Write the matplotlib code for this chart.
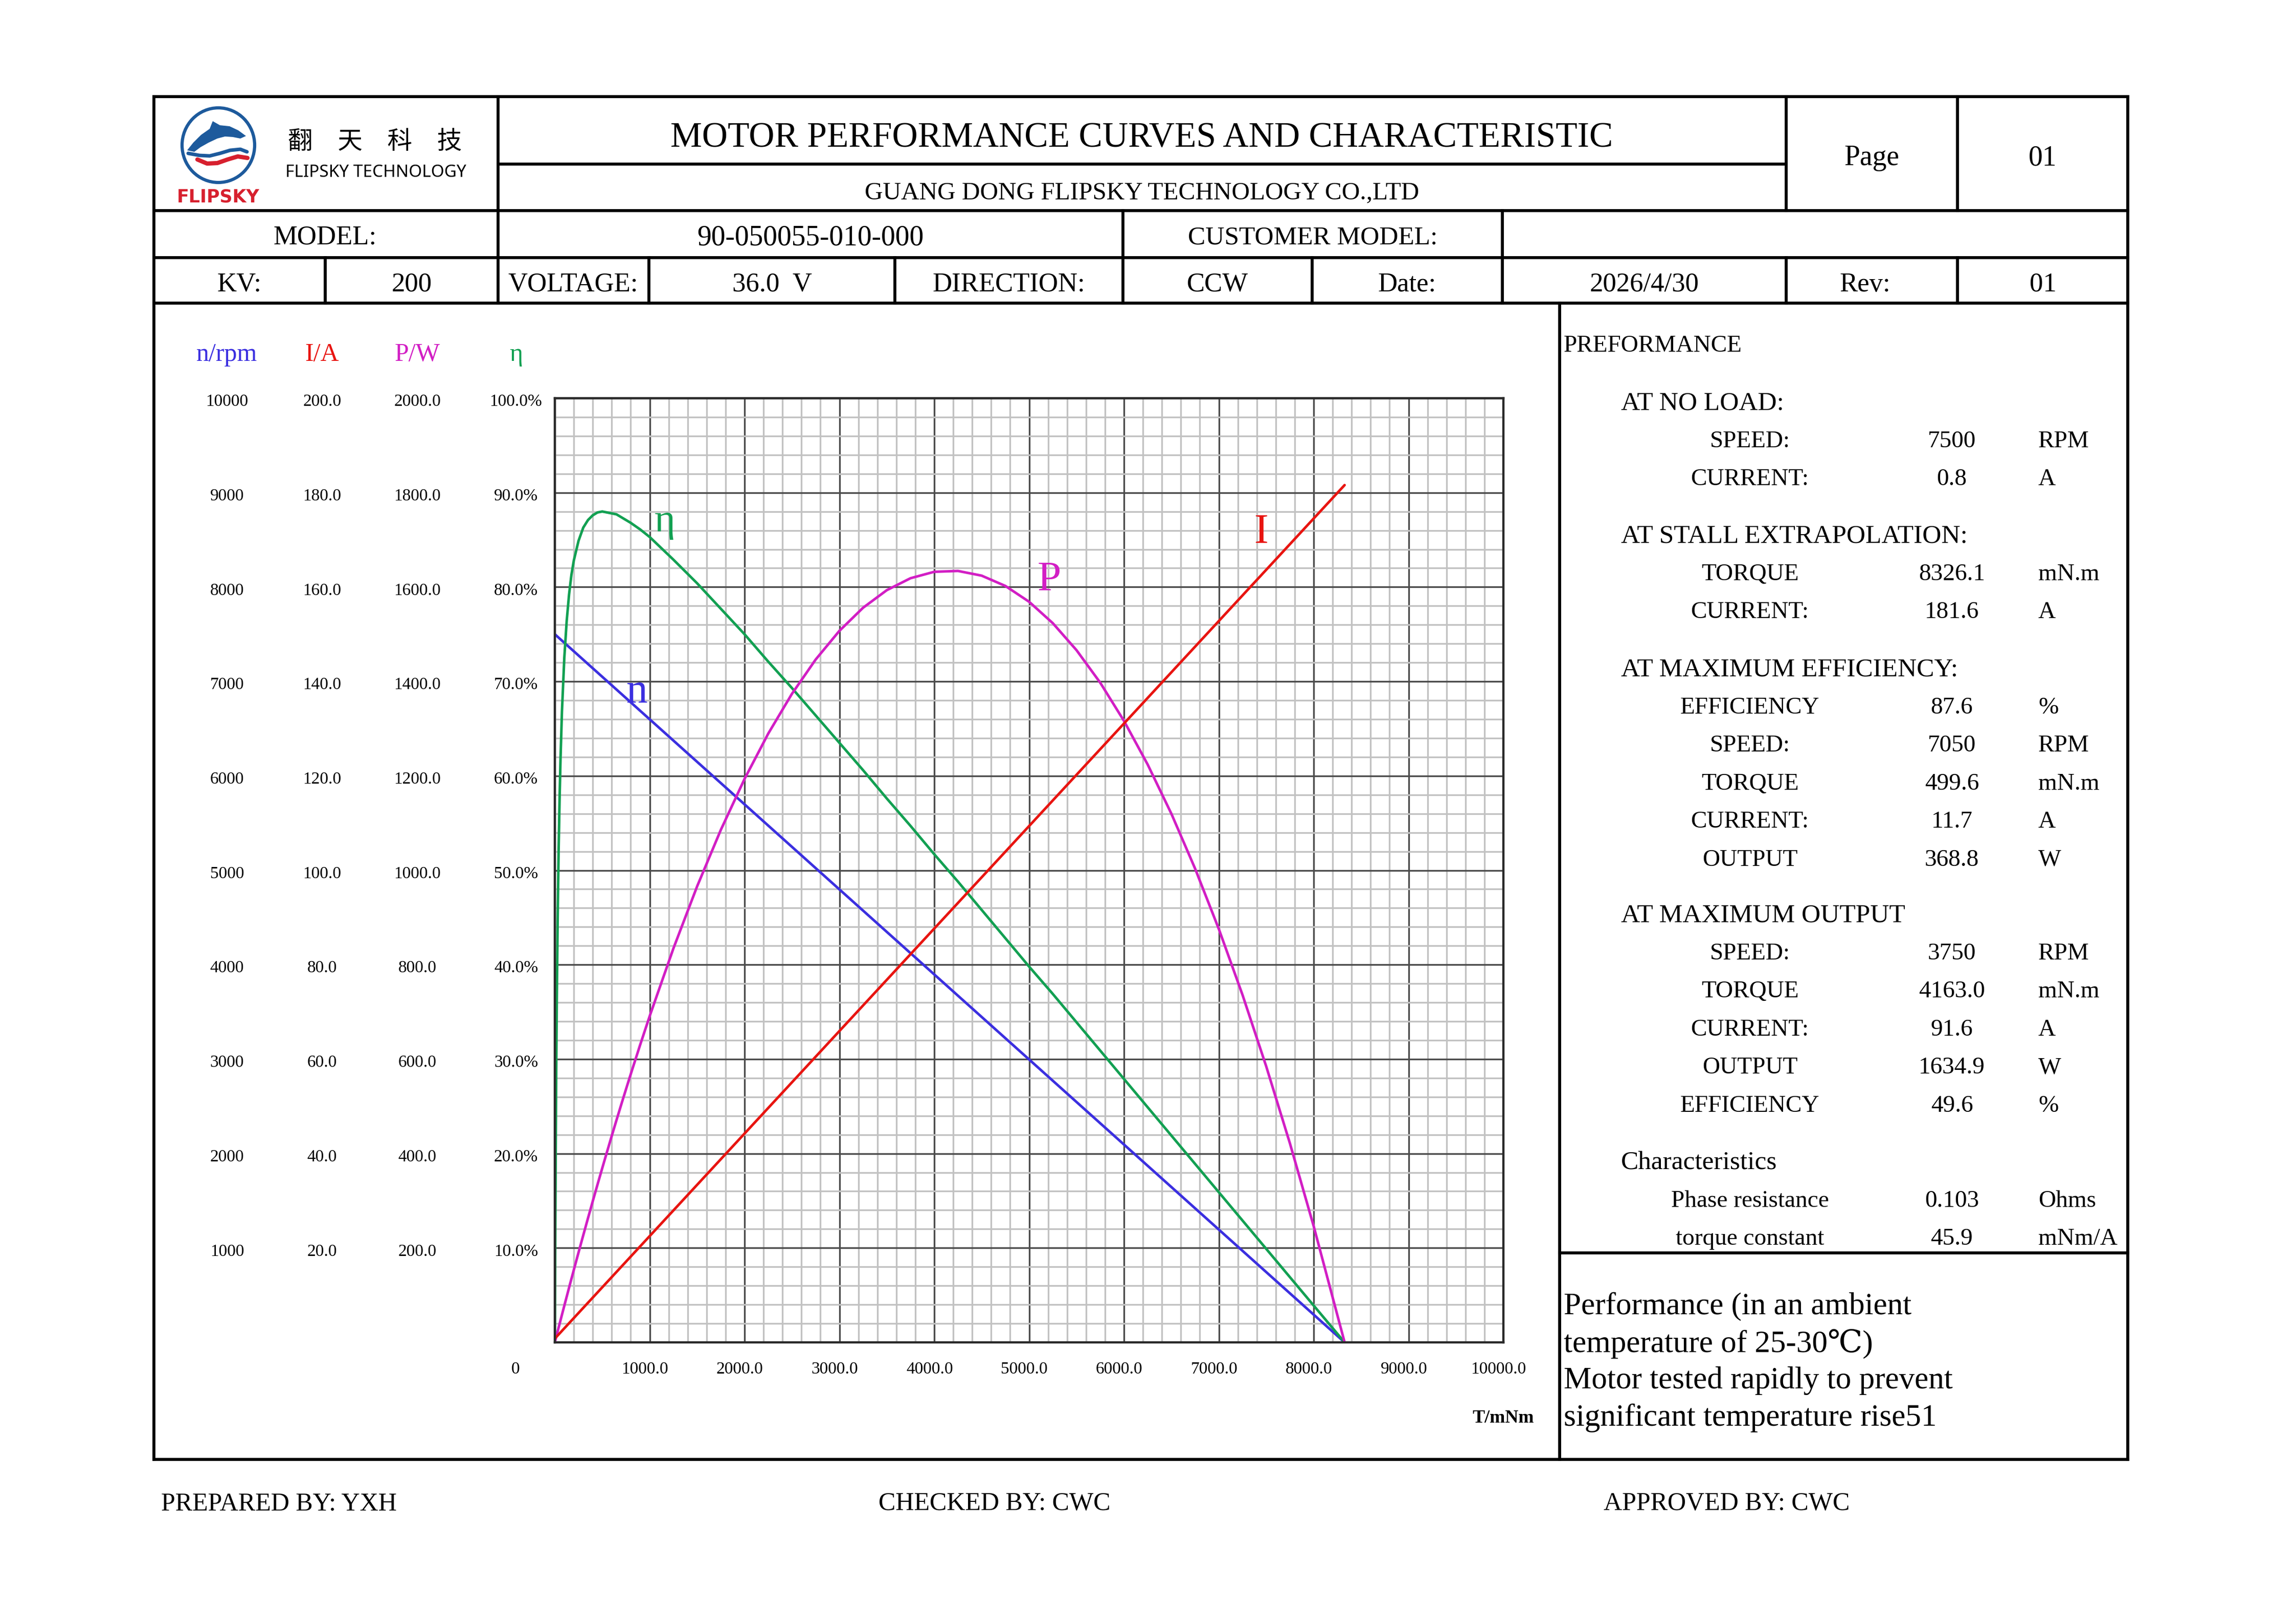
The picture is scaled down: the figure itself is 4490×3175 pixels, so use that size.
import matplotlib
matplotlib.use("Agg")

import matplotlib.pyplot as plt
import matplotlib.patches as mpatches
from matplotlib.transforms import offset_copy
import numpy as np

plt.rcParams["font.family"] = ["Liberation Serif", "DejaVu Serif", "Noto Sans CJK SC"]

# ── data read from the sheet ──────────────────────────────────
SPEED_FS, CURRENT_FS, POWER_FS = 10000.0, 200.0, 2000.0

line_torque = [0, 8326.1]            # mN.m, no load -> stall
speed_rpm   = [7500, 0]
current_a   = [0.8, 181.6]

torque = [0, 2, 5, 10, 15, 20, 30, 40, 50, 60, 75, 100, 125, 150, 175, 200,
          250, 300, 350, 400, 450, 500, 550, 600, 650, 700, 750, 800, 900,
          1000, 1250, 1500, 1750, 2000, 2250, 2500, 2750, 3000, 3250, 3500,
          3750, 4000, 4250, 4500, 4750, 5000, 5250, 5500, 5750, 6000, 6250,
          6500, 6750, 7000, 7250, 7500, 7750, 8000, 8326.1]
power_w = [0, 1.6, 3.9, 7.8, 11.8, 15.7, 23.5, 31.3, 39.0, 46.8, 58.4, 77.6,
           96.7, 115.7, 134.6, 153.3, 190.5, 227.1, 263.3, 299.1, 334.3,
           369.1, 403.4, 437.3, 470.7, 503.6, 536.0, 567.9, 630.5, 691.1,
           834.4, 965.9, 1085.6, 1193.5, 1289.6, 1373.9, 1446.5, 1507.2,
           1556.2, 1593.4, 1618.7, 1632.3, 1634.1, 1624.1, 1602.3, 1568.8,
           1523.4, 1466.2, 1397.3, 1316.5, 1224.0, 1119.7, 1003.5, 875.6,
           735.9, 584.4, 421.2, 246.1, 0]
eff_pct = [0, 5.2, 12.0, 21.4, 29.0, 35.3, 44.9, 52.1, 57.5, 61.8, 66.8,
           72.5, 76.4, 79.2, 81.3, 82.8, 84.9, 86.3, 87.1, 87.6, 87.9, 88.0,
           87.9, 87.8, 87.7, 87.4, 87.1, 86.8, 86.1, 85.3, 82.9, 80.4, 77.7,
           75.0, 72.1, 69.3, 66.4, 63.5, 60.6, 57.6, 54.7, 51.7, 48.8, 45.8,
           42.8, 39.8, 36.9, 33.9, 30.9, 27.9, 24.9, 21.9, 18.9, 15.9, 12.9,
           9.9, 6.9, 3.9, 0]

grid_pct       = [100, 90, 80, 70, 60, 50, 40, 30, 20, 10]
speed_ticks    = ["10000", "9000", "8000", "7000", "6000", "5000", "4000", "3000", "2000", "1000"]
current_ticks  = ["200.0", "180.0", "160.0", "140.0", "120.0", "100.0", "80.0", "60.0", "40.0", "20.0"]
power_ticks    = ["2000.0", "1800.0", "1600.0", "1400.0", "1200.0", "1000.0", "800.0", "600.0", "400.0", "200.0"]
eff_ticks      = ["100.0%", "90.0%", "80.0%", "70.0%", "60.0%", "50.0%", "40.0%", "30.0%", "20.0%", "10.0%"]
torque_ticks   = [1000, 2000, 3000, 4000, 5000, 6000, 7000, 8000, 9000, 10000]

perf_groups = [
    ("AT NO LOAD:", [("SPEED:", "7500", "RPM"), ("CURRENT:", "0.8", "A")]),
    ("AT STALL EXTRAPOLATION:", [("TORQUE", "8326.1", "mN.m"), ("CURRENT:", "181.6", "A")]),
    ("AT MAXIMUM EFFICIENCY:", [("EFFICIENCY", "87.6", "%"), ("SPEED:", "7050", "RPM"),
                                ("TORQUE", "499.6", "mN.m"), ("CURRENT:", "11.7", "A"),
                                ("OUTPUT", "368.8", "W")]),
    ("AT MAXIMUM OUTPUT", [("SPEED:", "3750", "RPM"), ("TORQUE", "4163.0", "mN.m"),
                           ("CURRENT:", "91.6", "A"), ("OUTPUT", "1634.9", "W"),
                           ("EFFICIENCY", "49.6", "%")]),
    ("Characteristics", [("Phase resistance", "0.103", "Ohms"),
                         ("torque constant", "45.9", "mNm/A")]),
]
note_lines = ["Performance (in an ambient", "temperature of 25-30\u2103)",
              "Motor tested rapidly to prevent", "significant temperature rise51"]

# colours
C_N, C_I, C_P, C_E = "#3b2fe0", "#e81410", "#d21ec4", "#12a052"

# ── page in pixel coordinates ─────────────────────────────────
W, H = 4490, 3175
fig = plt.figure(figsize=(W / 100, H / 100), dpi=100)
bg = fig.add_axes([0, 0, 1, 1])
bg.set_xlim(0, W); bg.set_ylim(H, 0); bg.axis("off")

DY = 7   # va="center" sits a little high for these glyphs
def put(x, y, s, **kw):
    kw.setdefault("va", "center")
    kw.setdefault("ha", "center")
    bg.text(x, y + DY, s, **kw)

LW = 4.2
def hl(y, x0, x1):
    bg.plot([x0, x1], [y, y], color="black", lw=LW, solid_capstyle="projecting")
def vl(x, y0, y1):
    bg.plot([x, x], [y0, y1], color="black", lw=LW, solid_capstyle="projecting")

L, R, T, B = 301, 4161, 189, 2855
for y in (T, 412, 504, 593, B):
    hl(y, L, R)
hl(321, 974, 3493)
hl(2451, 3050, R)
vl(L, T, B); vl(R, T, B)
for x in (974, 3493, 3828):
    vl(x, T, 412)
for x in (974, 2196, 2938):
    vl(x, 412, 504)
for x in (636, 974, 1269, 1750, 2196, 2566, 2938, 3493, 3828):
    vl(x, 504, 593)
vl(3050, 593, B)

# header
put(2233, 263, "MOTOR PERFORMANCE CURVES AND CHARACTERISTIC", fontsize=50)
put(2233, 370, "GUANG DONG FLIPSKY TECHNOLOGY CO.,LTD", fontsize=35.5)
put(3660, 302, "Page", fontsize=40)
put(3995, 302, "01", fontsize=40)

row_fs = 38
put(636, 458, "MODEL:", fontsize=row_fs)
put(1585, 458, "90-050055-010-000", fontsize=row_fs + 2)
put(2567, 458, "CUSTOMER MODEL:", fontsize=row_fs - 1)
kv_cells = [(468, "KV:"), (805, "200"), (1121, "VOLTAGE:"), (1510, "36.0  V"),
            (1973, "DIRECTION:"), (2381, "CCW"), (2752, "Date:"),
            (3216, "2026/4/30"), (3647, "Rev:"), (3995, "01")]
for x, s in kv_cells:
    put(x, 550, s, fontsize=row_fs)

# logo
bg.add_patch(mpatches.Ellipse((427, 284), 142, 146, fill=False, ec="#1d5a9c", lw=4.5))
dolphin = [(366, 294), (378, 279), (393, 264), (410, 252), (416, 237), (430, 245),
           (449, 247), (466, 255), (481, 266), (470, 271), (455, 268), (440, 267),
           (425, 271), (408, 279), (392, 288), (380, 297)]
bg.add_patch(mpatches.Polygon(dolphin, closed=True, fc="#1d5a9c", ec="none"))
bg.plot([368, 390, 410, 430, 450, 470, 483], [300, 304, 305, 300, 294, 292, 297],
        color="#1d5a9c", lw=5, solid_capstyle="round")
bg.plot([386, 405, 425, 445, 465, 484], [312, 320, 319, 312, 306, 309],
        color="#d7202e", lw=6, solid_capstyle="round")
put(427, 378, "FLIPSKY", fontsize=25, fontweight="bold", color="#d7202e",
    family=["DejaVu Sans"])
put(733, 270, "翻\u3000天\u3000科\u3000技", fontsize=35, family=["Noto Sans CJK SC"])
put(558, 331, "FLIPSKY TECHNOLOGY", ha="left", fontsize=24, family=["Noto Sans"])

# right panel
put(3058, 670, "PREFORMANCE", ha="left", fontsize=34)
head_y = [782, 1042, 1303, 1784, 2268]
STEP = 74.5
for (head, items), y0 in zip(perf_groups, head_y):
    put(3170, y0, head, ha="left", fontsize=37)
    for k, (lab, val, unit) in enumerate(items, 1):
        y = y0 + k * STEP
        put(3422, y, lab, fontsize=34)
        put(3817, y, val, fontsize=34)
        put(3986, y, unit, ha="left", fontsize=34)
for k, s in enumerate(note_lines):
    put(3058, 2549 + k * 72.5, s, ha="left", fontsize=44)

# footer
for x, s in [(315, "PREPARED BY: YXH"), (1718, "CHECKED BY: CWC"), (3136, "APPROVED BY: CWC")]:
    put(x, 2935, s, ha="left", fontsize=36)

# ── curve chart ───────────────────────────────────────────────
x0, x1, y0, y1 = 1085, 2940, 779, 2626
ax = fig.add_axes([x0 / W, 1 - y1 / H, (x1 - x0) / W, (y1 - y0) / H])
ax.set_zorder(2)
ax.set_xlim(0, 10000); ax.set_ylim(0, 100)
ax.set_xticks(np.arange(0, 10001, 1000)); ax.set_xticks(np.arange(0, 10001, 200), minor=True)
ax.set_yticks(np.arange(0, 101, 10)); ax.set_yticks(np.arange(0, 101, 2), minor=True)
ax.grid(which="minor", color="#c2c2c2", lw=2.4)
ax.grid(which="major", color="#4c4c4c", lw=2.4)
ax.set_axisbelow(True)
ax.tick_params(which="both", length=0, labelbottom=False, labelleft=False)
for sp in ax.spines.values():
    sp.set_color("#2a2a2a"); sp.set_linewidth(3.2)

style = dict(lw=3.6, solid_capstyle="round", solid_joinstyle="round")
ax.plot(line_torque, np.array(speed_rpm) / SPEED_FS * 100, color=C_N, **style)
ax.plot(torque, eff_pct, color=C_E, **style)
ax.plot(torque, np.array(power_w) / POWER_FS * 100, color=C_P, **style)
ax.plot(line_torque, np.array(current_a) / CURRENT_FS * 100, color=C_I, **style)

ax.text(1160, 85.9, "\u03b7", color=C_E, fontsize=56, ha="center", va="baseline")
ax.text(862, 67.8, "n", color=C_N, fontsize=60, ha="center", va="baseline")
ax.text(7450, 84.7, "I", color=C_I, fontsize=60, ha="center", va="baseline")
ax.text(5213, 79.7, "P", color=C_P, fontsize=60, ha="center", va="baseline")

# value columns left of the chart
ytr = offset_copy(ax.get_yaxis_transform(), fig=fig, y=-DY, units="dots")
cols = [(-0.3456, speed_ticks, "n/rpm", C_N), (-0.2453, current_ticks, "I/A", C_I),
        (-0.1450, power_ticks, "P/W", C_P), (-0.0410, eff_ticks, "\u03b7", C_E)]
for xc, labels, name, col in cols:
    ax.text(xc, 100 + 92 / 18.47, name, transform=ytr, ha="center", va="center",
            fontsize=36, color=col)
    for v, s in zip(grid_pct, labels):
        ax.text(xc, v, s, transform=ytr, ha="center", va="center", fontsize=24)

xtr = offset_copy(ax.get_xaxis_transform(), fig=fig, y=-DY, units="dots")
atr = offset_copy(ax.transAxes, fig=fig, y=-DY, units="dots")
ax.text(-0.0415, -0.025, "0", transform=atr, ha="center", va="center", fontsize=24)
for t in torque_ticks:
    ax.text(t - 50, -0.025, f"{t:.1f}", transform=xtr, ha="center", va="center", fontsize=24)
ax.text(1.0, -0.0765, "T/mNm", transform=atr, ha="center", va="center",
        fontsize=26, fontweight="bold")

fig.savefig("out.png", dpi=100)
